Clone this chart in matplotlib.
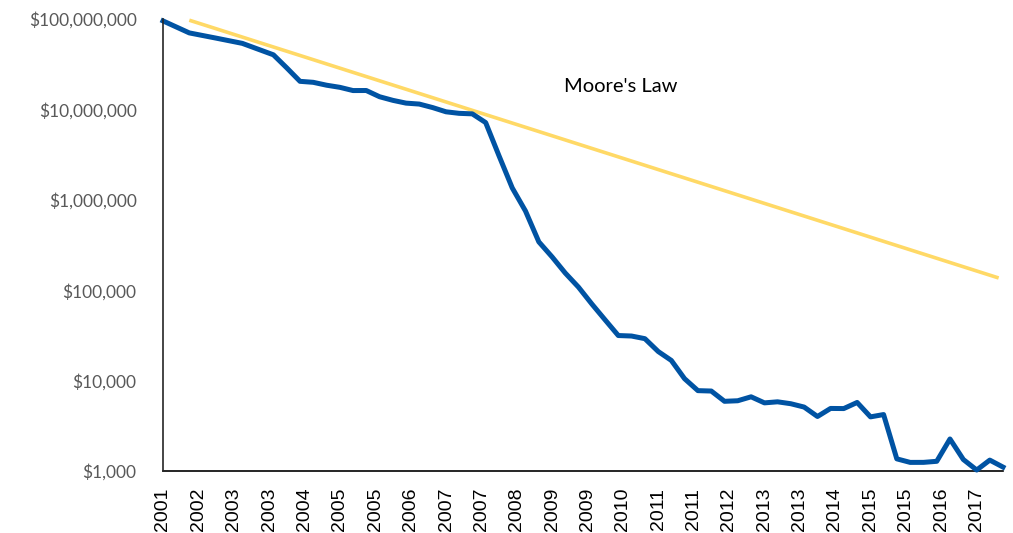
import matplotlib
matplotlib.use("Agg")
import matplotlib.pyplot as plt
import matplotlib.dates as mdates
import matplotlib.ticker as mticker
import pandas as pd

plt.rcParams["font.family"] = ["Lato", "DejaVu Sans"]

# ---- data ----
dates = ["2001-09", "2002-03", "2002-09", "2003-03", "2003-10",
         "2004-01", "2004-04", "2004-07", "2004-10",
         "2005-01", "2005-04", "2005-07", "2005-10",
         "2006-01", "2006-04", "2006-07", "2006-10",
         "2007-01", "2007-04", "2007-07", "2007-10",
         "2008-01", "2008-04", "2008-07", "2008-10",
         "2009-01", "2009-04", "2009-07", "2009-10",
         "2010-01", "2010-04", "2010-07", "2010-10",
         "2011-01", "2011-04", "2011-07", "2011-10",
         "2012-01", "2012-04", "2012-07", "2012-10",
         "2013-01", "2013-04", "2013-07", "2013-10",
         "2014-01", "2014-04", "2014-07", "2014-10",
         "2015-01", "2015-04", "2015-07", "2015-10",
         "2016-01", "2016-04", "2016-07", "2016-10",
         "2017-01", "2017-04", "2017-07"]
cost_per_genome = [95263072, 70175437, 61448422, 53751684, 40157554,
                   28780376, 20442576, 19934346, 18519312,
                   17534970, 16159699, 16180224, 13801124,
                   12585659, 11732535, 11455315, 10474556,
                   9408739, 9047003, 8927342, 7147571,
                   3063820, 1352982, 752080, 342502,
                   232735, 154714, 108065, 70333,
                   46774, 31512, 31125, 29092,
                   20963, 16712, 10497, 7743,
                   7666, 5901, 5985, 6618,
                   5671, 5826, 5550, 5096,
                   4008, 4920, 4905, 5731,
                   3970, 4211, 1363, 1245,
                   1246, 1280, 2260, 1340,
                   1025, 1320, 1105]
moore_dates = ["2002-03", "2017-06"]
moore_values = [97000000, 136500]
moore_label = "Moore's Law"
y_ticks = [1e3, 1e4, 1e5, 1e6, 1e7, 1e8]
tick_start, tick_end = "2001-09-01", "2017-01-01"

x = pd.to_datetime(dates)
mx = pd.to_datetime(moore_dates)

fig = plt.figure(figsize=(10.13, 5.33), dpi=100)
ax = fig.add_axes([163/1013, 1 - 471/533, (1003 - 163)/1013, (471 - 19)/533])

ax.plot(mx, moore_values, color="#FFD966", lw=2.6, solid_capstyle="butt",
        clip_on=False, zorder=2)
ax.plot(x, cost_per_genome, color="#0053A3", lw=3.6, solid_joinstyle="round",
        clip_on=False, zorder=3)

ax.set_yscale("log")
ax.set_ylim(1e3, 1e8)
ax.set_xlim(x[0], x[-1])
ax.yaxis.set_major_locator(mticker.FixedLocator(y_ticks))
ax.yaxis.set_minor_locator(mticker.NullLocator())
ax.yaxis.set_major_formatter(mticker.FuncFormatter(lambda v, p: "${:,.0f}".format(v)))

tick_dates = pd.date_range(tick_start, tick_end, freq="8MS")
ax.set_xticks(tick_dates)
ax.xaxis.set_major_formatter(mdates.DateFormatter("%Y"))
ax.xaxis.set_minor_locator(mticker.NullLocator())

ax.tick_params(axis="y", length=0, pad=19, labelsize=12.5, labelcolor="#595959",
               labelfontfamily="Lato")
ax.tick_params(axis="x", length=0, pad=12, labelsize=14, labelcolor="#000000",
               labelfontfamily="Liberation Sans", labelrotation=90)

for s in ["top", "right"]:
    ax.spines[s].set_visible(False)
ax.spines["left"].set_color("#262626")
ax.spines["left"].set_linewidth(1.2)
ax.spines["bottom"].set_color("#000000")
ax.spines["bottom"].set_linewidth(1.2)
ax.spines["left"].set_zorder(4)

fig.text(621/1013, 1 - 87/533, moore_label, fontfamily="Lato", fontsize=14.5,
         color="#000000", ha="center", va="center")

fig.savefig("out.png", dpi=100)
